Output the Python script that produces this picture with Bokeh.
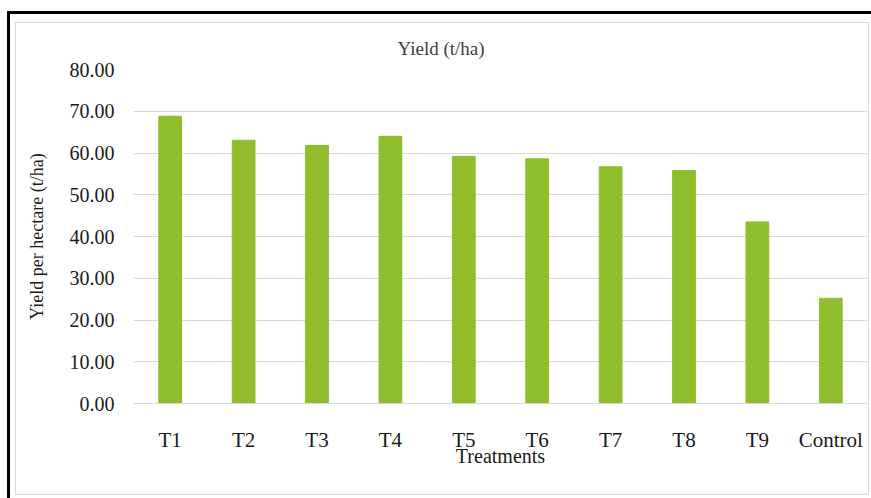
from bokeh.plotting import figure
from bokeh.models import FactorRange, Range1d, FixedTicker, NumeralTickFormatter, Title
from bokeh.embed import file_html
from bokeh.resources import INLINE

treatments = ["T1", "T2", "T3", "T4", "T5", "T6", "T7", "T8", "T9", "Control"]
yield_t_ha = [68.8, 63.05, 61.8, 64.0, 59.2, 58.6, 56.7, 55.8, 43.5, 25.2]
y_ticks = [0, 10, 20, 30, 40, 50, 60, 70, 80]

FONT = "Liberation Serif"

p = figure(
    x_range=FactorRange(factors=treatments, range_padding=0),
    y_range=Range1d(0, 80),
    width=854, height=473,
    output_backend="svg", toolbar_location=None,
    min_border_left=117, min_border_right=3, min_border_top=46, min_border_bottom=93,
    margin=(22, 0, 0, 15),
    styles={"border": "1px solid #d9d9d9",
            "box-shadow": "15px 12px 0 20px #ffffff, 12px 9px 0 20px #000000"},
)
p.outline_line_color = None
p.background_fill_color = "white"
p.border_fill_color = "white"

p.vbar(x=treatments, top=yield_t_ha, width=0.31, color="#8fbd2c")

t = Title(text="Yield (t/ha)", align="left", offset=264, standoff=22,
          text_font=FONT, text_font_size="19px", text_font_style="normal",
          text_color="#404040")
p.add_layout(t, "above")

p.xgrid.grid_line_color = None
p.ygrid.grid_line_color = "#d9d9d9"
p.ygrid.grid_line_width = 1
p.yaxis.ticker = FixedTicker(ticks=y_ticks)
p.yaxis.formatter = NumeralTickFormatter(format="0.00")

p.yaxis.axis_line_color = None
p.yaxis.major_tick_line_color = None
p.yaxis.minor_tick_line_color = None
p.yaxis.major_tick_out = 0
p.yaxis.major_label_standoff = 19
p.yaxis.major_label_text_font = FONT
p.yaxis.major_label_text_font_size = "20px"
p.yaxis.major_label_text_color = "#1a1a1a"
p.yaxis.axis_label = "Yield per hectare (t/ha)"
p.yaxis.axis_label_text_font = FONT
p.yaxis.axis_label_text_font_size = "18px"
p.yaxis.axis_label_text_font_style = "normal"
p.yaxis.axis_label_text_color = "#1a1a1a"
p.yaxis.axis_label_standoff = 20

p.xaxis.axis_line_color = "#d9d9d9"
p.xaxis.major_tick_line_color = None
p.xaxis.minor_tick_line_color = None
p.xaxis.major_tick_out = 0
p.xaxis.major_label_standoff = 24
p.xaxis.major_label_text_font = FONT
p.xaxis.major_label_text_font_size = "21px"
p.xaxis.major_label_text_color = "#1a1a1a"
p.xaxis.axis_label = "Treatments"
p.xaxis.axis_label_text_font = FONT
p.xaxis.axis_label_text_font_size = "20px"
p.xaxis.axis_label_text_font_style = "normal"
p.xaxis.axis_label_text_color = "#1a1a1a"
p.xaxis.axis_label_standoff = -10

open("out.html", "w").write(file_html(p, INLINE))
